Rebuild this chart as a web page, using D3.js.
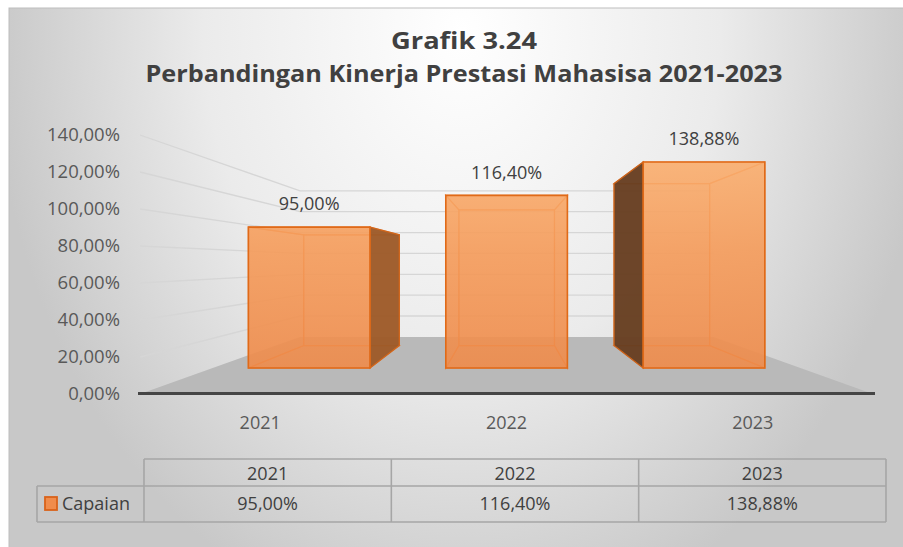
<!DOCTYPE html>
<html>
<head>
<meta charset="utf-8">
<script src="https://cdn.jsdelivr.net/npm/d3@7/dist/d3.min.js"></script>
<style>
  html, body { margin: 0; padding: 0; background: #ffffff; }
  svg { display: block; }
  text { font-family: "Open Sans", "Noto Sans", sans-serif; }
</style>
</head>
<body>
<svg id="chart" width="903" height="547"></svg>
<script>
// ---- data ----
const years = ["2021", "2022", "2023"];
const capaian = [95.00, 116.40, 138.88];
const seriesName = "Capaian";
const yTicks = [0, 20, 40, 60, 80, 100, 120, 140];
const titleLines = ["Grafik 3.24", "Perbandingan Kinerja Prestasi Mahasisa 2021-2023"];

const W = 903, H = 547;
const svg = d3.select("#chart");
const defs = svg.append("defs");

// Indonesian number format: decimal comma
const idLocale = d3.formatLocale({ decimal: ",", thousands: ".", grouping: [3], currency: ["Rp", ""] });
const pct = v => idLocale.format(".2f")(v) + "%";

// ---- background panel ----
const bg = defs.append("radialGradient").attr("id", "bgGrad")
  .attr("gradientUnits", "userSpaceOnUse")
  .attr("cx", 462).attr("cy", 30).attr("r", 470)
  .attr("gradientTransform", "translate(462,30) scale(1,1.3) translate(-462,-30)");
bg.append("stop").attr("offset", 0).attr("stop-color", "#ffffff");
bg.append("stop").attr("offset", 0.55).attr("stop-color", "#ebebeb");
bg.append("stop").attr("offset", 1).attr("stop-color", "#c8c8c8");

svg.append("rect").attr("x", 9).attr("y", 8).attr("width", W).attr("height", H)
  .attr("fill", "url(#bgGrad)").attr("stroke", "#bdbdbd").attr("stroke-width", 1);

// ---- title ----
svg.append("text").attr("x", 464).attr("y", 49).attr("text-anchor", "middle")
  .attr("font-size", 23).attr("font-weight", 700).attr("fill", "#404040")
  .attr("textLength", 146).attr("lengthAdjust", "spacingAndGlyphs")
  .text(titleLines[0]);
svg.append("text").attr("x", 464).attr("y", 82).attr("text-anchor", "middle")
  .attr("font-size", 24).attr("font-weight", 700).attr("fill", "#404040")
  .attr("textLength", 637).attr("lengthAdjust", "spacingAndGlyphs")
  .text(titleLines[1]);

// ---- 3D plot scales (front plane) and perspective ----
const x = d3.scaleBand().domain(years).range([140, 873]).paddingInner(0.384).paddingOuter(0.18);
const y = d3.scaleLinear().domain([0, 140]).range([394, 135]);
const V = [507, 263];              // vanishing point
const S_WALL = 0.564;              // back wall depth scale
const S_BAR_F = 0.8015;            // bar front depth scale
const S_BAR_B = 0.63;              // bar back depth scale
const proj = (px, py, s) => [V[0] + (px - V[0]) * s, V[1] + (py - V[1]) * s];
const poly = pts => "M" + pts.map(p => p.join(",")).join("L") + "Z";

const [xL, xR] = x.range();

// floor
svg.append("path")
  .attr("d", poly([proj(xL, y(0), 1), proj(xR, y(0), 1), proj(xR, y(0), S_WALL), proj(xL, y(0), S_WALL)]))
  .attr("fill", "#b9b9b9");

// gridlines on the side wall and back wall
const grid = svg.append("g").attr("fill", "none").attr("stroke", "#d6d6d6").attr("stroke-width", 1.3);
yTicks.filter(v => v > 0).forEach(v => {
  const a = proj(xL, y(v), 1), b = proj(xL, y(v), S_WALL), c = proj(xR, y(v), S_WALL);
  grid.append("path").attr("d", "M" + a + "L" + b + "L" + c);
});

// front floor edge (category axis line)
svg.append("line")
  .attr("x1", xL - 2).attr("x2", xR + 2).attr("y1", y(0) - 0.5).attr("y2", y(0) - 0.5)
  .attr("stroke", "#454545").attr("stroke-width", 3);

// value axis labels
const yAxis = d3.axisLeft(y).tickValues(yTicks).tickSize(0).tickPadding(20).tickFormat(pct);
const yg = svg.append("g").attr("transform", `translate(${xL},0)`).call(yAxis);
yg.select(".domain").remove();
yg.selectAll("text").attr("font-size", 18.5).attr("fill", "#595959")
  .attr("font-family", "'Open Sans', sans-serif");

// category axis labels
const xAxis = d3.axisBottom(x).tickSize(0).tickPadding(22);
const xg = svg.append("g").attr("transform", `translate(0,${y(0)})`).call(xAxis);
xg.select(".domain").remove();
xg.selectAll("text").attr("font-size", 18).attr("fill", "#595959")
  .attr("font-family", "'Open Sans', sans-serif");

// ---- bars as translucent boxes ----
const fg = defs.append("linearGradient").attr("id", "frontGrad")
  .attr("gradientUnits", "userSpaceOnUse").attr("x1", 0).attr("y1", 150).attr("x2", 0).attr("y2", 370);
fg.append("stop").attr("offset", 0).attr("stop-color", "#fbb273");
fg.append("stop").attr("offset", 0.45).attr("stop-color", "#f59c5b");
fg.append("stop").attr("offset", 1).attr("stop-color", "#ee8a4a");

const barsG = svg.append("g");
years.forEach((yr, i) => {
  const v = capaian[i];
  const x0 = x(yr), x1 = x(yr) + x.bandwidth();
  const yT = y(v), yB = y(0);
  const c = (px, py, s) => proj(px, py, s);
  const F = [c(x0, yT, S_BAR_F), c(x1, yT, S_BAR_F), c(x1, yB, S_BAR_F), c(x0, yB, S_BAR_F)];
  const B = [c(x0, yT, S_BAR_B), c(x1, yT, S_BAR_B), c(x1, yB, S_BAR_B), c(x0, yB, S_BAR_B)];
  const g = barsG.append("g");
  const inner = { fill: "#f39a58", "fill-opacity": 0.35, stroke: "#ec7a2e", "stroke-opacity": 0.75, "stroke-width": 1.2 };
  const face = (pts, st) => {
    const p = g.append("path").attr("d", poly(pts));
    Object.entries(st).forEach(([k, val]) => p.attr(k, val));
  };
  const leftFace = [F[0], B[0], B[3], F[3]];
  const rightFace = [F[1], B[1], B[2], F[2]];
  const leftVisible = x0 > V[0];
  const rightVisible = x1 < V[0];
  // hidden faces seen through the front
  face(B, inner);
  face([F[3], F[2], B[2], B[3]], inner);
  face([F[0], F[1], B[1], B[0]], inner);
  if (!leftVisible) face(leftFace, inner);
  if (!rightVisible) face(rightFace, inner);
  // visible side faces, shaded
  if (rightVisible) face(rightFace, { fill: "#9c5a28", "fill-opacity": 0.95, stroke: "#d0661c", "stroke-width": 1.3 });
  if (leftVisible) face(leftFace, { fill: "#653d21", "fill-opacity": 0.95, stroke: "#c8621b", "stroke-width": 1.3 });
  // front face
  face(F, { fill: "url(#frontGrad)", "fill-opacity": 0.86, stroke: "#e06a18", "stroke-width": 1.6 });

  // value label above the front face
  g.append("text")
    .attr("x", (F[0][0] + F[1][0]) / 2).attr("y", F[0][1] - 23)
    .attr("dy", "0.35em").attr("text-anchor", "middle")
    .attr("font-size", 18).attr("fill", "#404040")
    .text(pct(v));
});

// ---- data table ----
const tx = d3.scaleBand().domain(years).range([144, 886]);
const tTop = 459, tMid = 486, tBot = 522, tLeft = 37;
const tbl = svg.append("g").attr("stroke", "#a6a6a6").attr("stroke-width", 1.6).attr("fill", "none");
tbl.append("line").attr("x1", tx.range()[0]).attr("x2", tx.range()[1]).attr("y1", tTop).attr("y2", tTop);
tbl.append("line").attr("x1", tLeft).attr("x2", tx.range()[1]).attr("y1", tMid).attr("y2", tMid);
tbl.append("line").attr("x1", tLeft).attr("x2", tx.range()[1]).attr("y1", tBot).attr("y2", tBot);
tbl.append("line").attr("x1", tLeft).attr("x2", tLeft).attr("y1", tMid).attr("y2", tBot);
tx.domain().forEach(d => {
  tbl.append("line").attr("x1", tx(d)).attr("x2", tx(d)).attr("y1", tTop).attr("y2", tBot);
});
tbl.append("line").attr("x1", tx.range()[1]).attr("x2", tx.range()[1]).attr("y1", tTop).attr("y2", tBot);

const tText = svg.append("g").attr("font-size", 18).attr("fill", "#404040").attr("text-anchor", "middle");
years.forEach((yr, i) => {
  tText.append("text").attr("x", tx(yr) + tx.bandwidth() / 2).attr("y", (tTop + tMid) / 2 + 1)
    .attr("dy", "0.35em").text(yr);
  tText.append("text").attr("x", tx(yr) + tx.bandwidth() / 2).attr("y", (tMid + tBot) / 2)
    .attr("dy", "0.35em").text(pct(capaian[i]));
});

// legend key + series name
svg.append("rect").attr("x", 45).attr("y", 497).attr("width", 12).attr("height", 13)
  .attr("fill", "#f08c4c").attr("stroke", "#d9621a").attr("stroke-width", 1.8);
svg.append("text").attr("x", 62).attr("y", 504).attr("dy", "0.35em")
  .attr("font-size", 18).attr("fill", "#404040").text(seriesName);
</script>
</body>
</html>
